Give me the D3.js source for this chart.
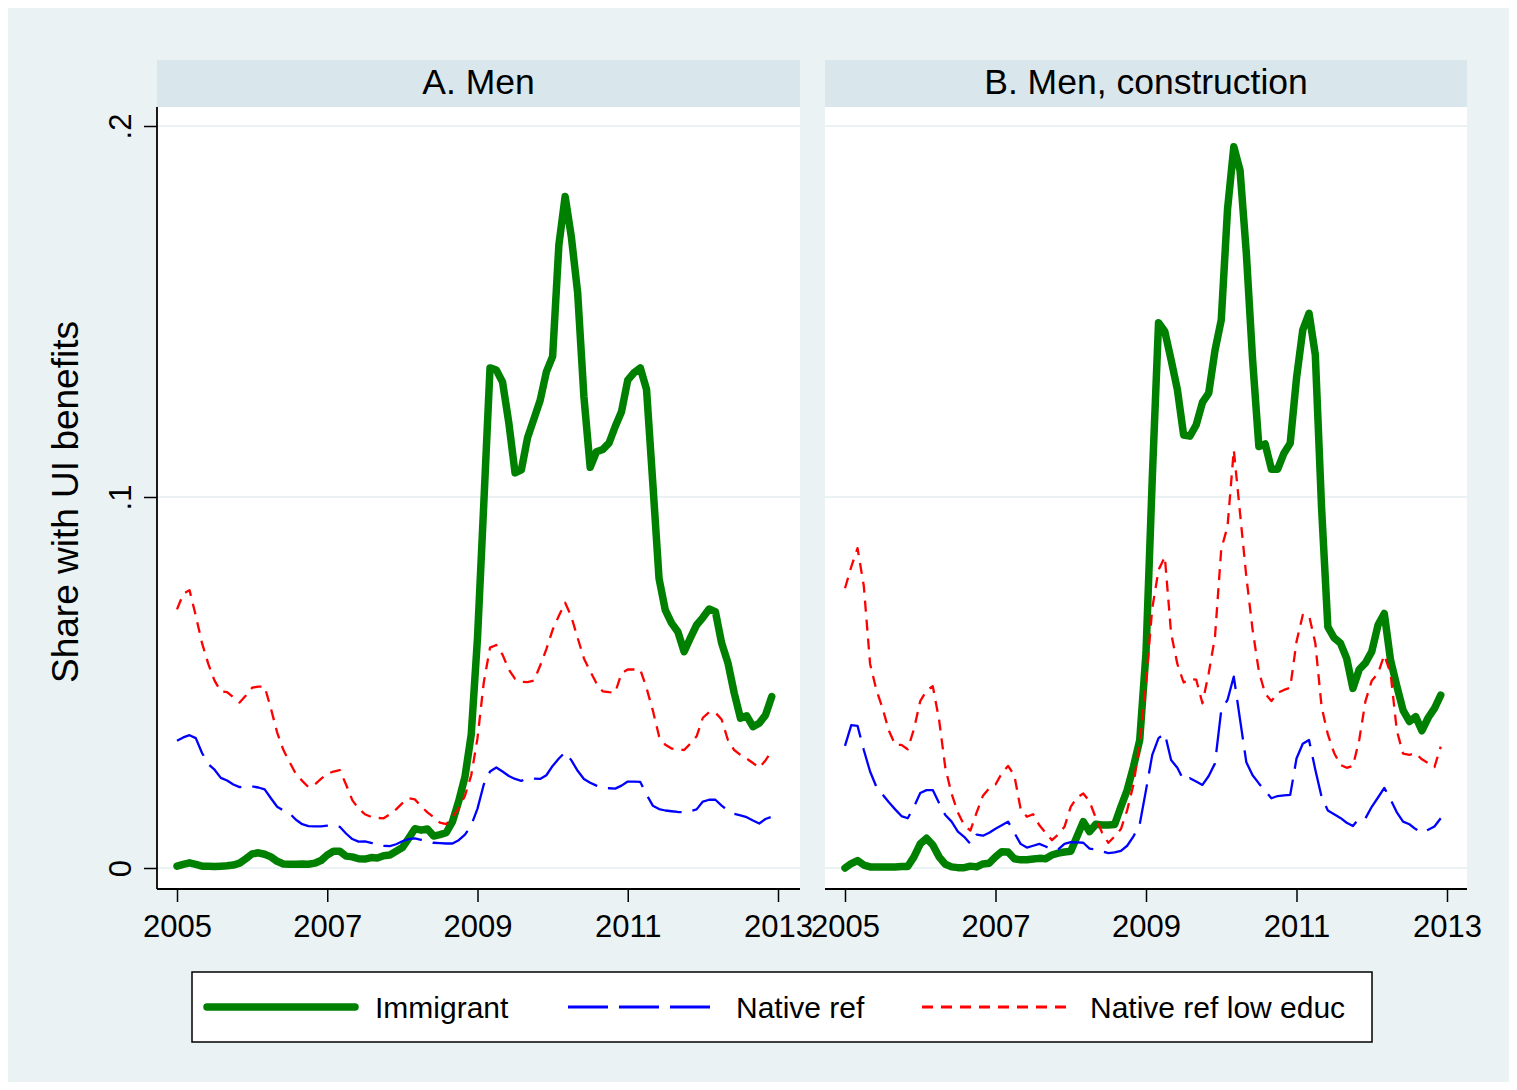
<!DOCTYPE html>
<html>
<head>
<meta charset="utf-8">
<script src="https://cdn.jsdelivr.net/npm/d3@7"></script>
<style>
  body { margin: 0; background: #fff; }
  text { font-family: "Liberation Sans", Arial, Helvetica, sans-serif; fill: #000; }
</style>
</head>
<body>
<script>
// monthly series, Jan 2005 .. Dec 2012 (12 values per row)
var startYear = 2005;

var menImmigrant = [
  0.0005, 0.0010, 0.0014, 0.0010, 0.0005, 0.0005, 0.0004, 0.0005, 0.0006, 0.0008, 0.0013, 0.0025,
  0.0038, 0.0041, 0.0037, 0.0030, 0.0018, 0.0011, 0.0010, 0.0010, 0.0011, 0.0010, 0.0013, 0.0020,
  0.0035, 0.0045, 0.0045, 0.0032, 0.0030, 0.0025, 0.0024, 0.0028, 0.0027, 0.0033, 0.0035, 0.0045,
  0.0055, 0.0080, 0.0106, 0.0102, 0.0105, 0.0086, 0.0090, 0.0095, 0.0125, 0.0180, 0.0246, 0.0360,
  0.0620, 0.0980, 0.1348, 0.1342, 0.1310, 0.1200, 0.1065, 0.1073, 0.1160, 0.1210, 0.1260, 0.1337,
  0.1379, 0.1680, 0.1810, 0.1700, 0.1550, 0.1270, 0.1080, 0.1122, 0.1128, 0.1145, 0.1190, 0.1230,
  0.1315, 0.1335, 0.1348, 0.1290, 0.1038, 0.0780, 0.0695, 0.0660, 0.0637, 0.0583, 0.0620, 0.0655,
  0.0675, 0.0698, 0.0691, 0.0606, 0.0553, 0.0472, 0.0404, 0.0410, 0.0381, 0.0390, 0.0412, 0.0462
];
var menNative = [
  0.0343, 0.0352, 0.0358, 0.0350, 0.0310, 0.0280, 0.0265, 0.0243, 0.0236, 0.0225, 0.0218, 0.0221,
  0.0220, 0.0217, 0.0212, 0.0188, 0.0165, 0.0155, 0.0147, 0.0130, 0.0118, 0.0113, 0.0112, 0.0112,
  0.0114, 0.0116, 0.0111, 0.0093, 0.0078, 0.0071, 0.0072, 0.0068, 0.0062, 0.0060, 0.0059, 0.0064,
  0.0072, 0.0078, 0.0080, 0.0076, 0.0072, 0.0068, 0.0067, 0.0066, 0.0066, 0.0075, 0.0090, 0.0115,
  0.0160, 0.0225, 0.0260, 0.0271, 0.0260, 0.0248, 0.0240, 0.0235, 0.0242, 0.0241, 0.0240, 0.0250,
  0.0275, 0.0295, 0.0312, 0.0290, 0.0262, 0.0240, 0.0230, 0.0222, 0.0216, 0.0215, 0.0214, 0.0222,
  0.0233, 0.0233, 0.0232, 0.0198, 0.0168, 0.0159, 0.0155, 0.0153, 0.0151, 0.0150, 0.0153, 0.0158,
  0.0179, 0.0184, 0.0184, 0.0168, 0.0155, 0.0146, 0.0142, 0.0137, 0.0128, 0.0120, 0.0132, 0.0138
];
var menNativeLow = [
  0.0697, 0.0739, 0.0749, 0.0680, 0.0606, 0.0550, 0.0505, 0.0476, 0.0474, 0.0460, 0.0446, 0.0465,
  0.0486, 0.0489, 0.0489, 0.0430, 0.0365, 0.0318, 0.0285, 0.0253, 0.0235, 0.0218, 0.0225, 0.0240,
  0.0254, 0.0260, 0.0264, 0.0225, 0.0183, 0.0160, 0.0145, 0.0138, 0.0135, 0.0134, 0.0145, 0.0158,
  0.0175, 0.0188, 0.0185, 0.0166, 0.0150, 0.0137, 0.0122, 0.0118, 0.0138, 0.0160, 0.0195, 0.0250,
  0.0350, 0.0500, 0.0594, 0.0601, 0.0575, 0.0535, 0.0510, 0.0502, 0.0501, 0.0505, 0.0545, 0.0590,
  0.0642, 0.0680, 0.0715, 0.0677, 0.0620, 0.0565, 0.0530, 0.0498, 0.0476, 0.0474, 0.0473, 0.0525,
  0.0535, 0.0535, 0.0535, 0.0485, 0.0425, 0.0355, 0.0332, 0.0322, 0.0320, 0.0318, 0.0335, 0.0355,
  0.0405, 0.0420, 0.0419, 0.0400, 0.0345, 0.0318, 0.0305, 0.0295, 0.0283, 0.0270, 0.0290, 0.0315
];

var conImmigrant = [
  0.0000, 0.0012, 0.0020, 0.0008, 0.0003, 0.0003, 0.0003, 0.0003, 0.0003, 0.0004, 0.0004, 0.0030,
  0.0065, 0.0080, 0.0062, 0.0030, 0.0010, 0.0003, 0.0001, 0.0001, 0.0005, 0.0003, 0.0011, 0.0013,
  0.0030, 0.0044, 0.0043, 0.0025, 0.0022, 0.0022, 0.0024, 0.0026, 0.0025, 0.0035, 0.0040, 0.0043,
  0.0045, 0.0085, 0.0125, 0.0098, 0.0118, 0.0116, 0.0116, 0.0117, 0.0165, 0.0210, 0.0273, 0.0345,
  0.0580, 0.1050, 0.1470, 0.1446, 0.1370, 0.1290, 0.1167, 0.1164, 0.1194, 0.1255, 0.1280, 0.1395,
  0.1477, 0.1775, 0.1944, 0.1880, 0.1657, 0.1370, 0.1136, 0.1143, 0.1075, 0.1075, 0.1118, 0.1145,
  0.1320, 0.1450, 0.1495, 0.1383, 0.0970, 0.0650, 0.0620, 0.0606, 0.0565, 0.0484, 0.0535, 0.0553,
  0.0583, 0.0655, 0.0686, 0.0560, 0.0490, 0.0425, 0.0395, 0.0408, 0.0370, 0.0405, 0.0430, 0.0466
];
var conNative = [
  0.0329, 0.0385, 0.0383, 0.0318, 0.0260, 0.0219, 0.0198, 0.0177, 0.0158, 0.0140, 0.0134, 0.0165,
  0.0202, 0.0210, 0.0210, 0.0175, 0.0143, 0.0125, 0.0098, 0.0084, 0.0065, 0.0090, 0.0087, 0.0095,
  0.0106, 0.0115, 0.0125, 0.0095, 0.0065, 0.0055, 0.0060, 0.0065, 0.0058, 0.0050, 0.0050, 0.0065,
  0.0070, 0.0069, 0.0068, 0.0052, 0.0050, 0.0045, 0.0040, 0.0042, 0.0046, 0.0060, 0.0085, 0.0118,
  0.0210, 0.0305, 0.0350, 0.0363, 0.0291, 0.0270, 0.0237, 0.0242, 0.0233, 0.0224, 0.0248, 0.0282,
  0.0425, 0.0453, 0.0516, 0.0400, 0.0285, 0.0250, 0.0228, 0.0208, 0.0188, 0.0194, 0.0196, 0.0197,
  0.0295, 0.0335, 0.0345, 0.0265, 0.0192, 0.0155, 0.0145, 0.0135, 0.0122, 0.0113, 0.0134, 0.0134,
  0.0165, 0.0190, 0.0216, 0.0185, 0.0150, 0.0125, 0.0118, 0.0105, 0.0095, 0.0103, 0.0112, 0.0134
];
var conNativeLow = [
  0.0754, 0.0812, 0.0862, 0.0760, 0.0550, 0.0480, 0.0430, 0.0370, 0.0332, 0.0332, 0.0320, 0.0375,
  0.0450, 0.0478, 0.0490, 0.0400, 0.0270, 0.0200, 0.0150, 0.0115, 0.0101, 0.0150, 0.0195, 0.0215,
  0.0225, 0.0255, 0.0275, 0.0250, 0.0160, 0.0138, 0.0145, 0.0115, 0.0095, 0.0075, 0.0090, 0.0111,
  0.0165, 0.0190, 0.0201, 0.0179, 0.0135, 0.0095, 0.0068, 0.0085, 0.0105, 0.0156, 0.0225, 0.0335,
  0.0500, 0.0700, 0.0803, 0.0839, 0.0633, 0.0550, 0.0500, 0.0509, 0.0508, 0.0444, 0.0525, 0.0623,
  0.0860, 0.0920, 0.1127, 0.0956, 0.0785, 0.0642, 0.0530, 0.0470, 0.0450, 0.0472, 0.0480, 0.0486,
  0.0610, 0.0682, 0.0681, 0.0606, 0.0435, 0.0360, 0.0310, 0.0278, 0.0270, 0.0275, 0.0345, 0.0450,
  0.0505, 0.0525, 0.0574, 0.0525, 0.0370, 0.0308, 0.0305, 0.0309, 0.0293, 0.0283, 0.0272, 0.0327
];

var seriesNames = ["Immigrant", "Native ref", "Native ref low educ"];
var panelTitles = ["A. Men", "B. Men, construction"];
var xTicks = [2005, 2007, 2009, 2011, 2013];
var yTicks = [0, 0.1, 0.2];
var yTickLabels = ["0", ".1", ".2"];
var yTitle = "Share with UI benefits";

var width = 1517, height = 1090;
var plotTop = 107, plotBottom = 889;

var svg = d3.select("body").append("svg")
  .attr("width", width)
  .attr("height", height);

svg.append("rect")
  .attr("x", 8).attr("y", 8)
  .attr("width", 1501).attr("height", 1074)
  .attr("fill", "#eaf2f3");

var y = d3.scaleLinear().domain([0, 0.2]).range([868, 126]);

var styles = [
  {color: "#008000", width: 7.5, dash: null},
  {color: "#0000ff", width: 2.3, dash: "40,11"},
  {color: "#ff0000", width: 2.3, dash: "11,8"}
];

var panels = [
  {title: panelTitles[0], left: 157, right: 800, x0: 177, x1: 778,
   series: [menImmigrant, menNative, menNativeLow], yAxis: true},
  {title: panelTitles[1], left: 825, right: 1467, x0: 845, x1: 1447,
   series: [conImmigrant, conNative, conNativeLow], yAxis: false}
];

panels.forEach(function(p) {
  var x = d3.scaleLinear().domain([2005, 2013]).range([p.x0, p.x1]);
  var g = svg.append("g");

  // header strip
  g.append("rect")
    .attr("x", p.left).attr("y", 60)
    .attr("width", p.right - p.left).attr("height", 47)
    .attr("fill", "#d9e6eb");
  g.append("text")
    .attr("x", (p.left + p.right) / 2).attr("y", 94)
    .attr("text-anchor", "middle")
    .attr("font-size", 35.5)
    .text(p.title);

  // plot area
  g.append("rect")
    .attr("x", p.left).attr("y", plotTop)
    .attr("width", p.right - p.left).attr("height", plotBottom - plotTop)
    .attr("fill", "#fff");

  g.selectAll(".grid")
    .data(yTicks)
    .enter().append("line")
    .attr("x1", p.left).attr("x2", p.right)
    .attr("y1", function(d) { return y(d); })
    .attr("y2", function(d) { return y(d); })
    .attr("stroke", "#eaf2f3")
    .attr("stroke-width", 2);

  var line = d3.line()
    .x(function(d, i) { return x(startYear + i / 12); })
    .y(function(d) { return y(d); });

  p.series.forEach(function(vals, k) {
    var s = styles[k];
    g.append("path")
      .datum(vals)
      .attr("d", line)
      .attr("fill", "none")
      .attr("stroke", s.color)
      .attr("stroke-width", s.width)
      .attr("stroke-linejoin", "round")
      .attr("stroke-linecap", k === 0 ? "round" : "butt")
      .attr("stroke-dasharray", s.dash);
  });

  // x axis
  var xa = g.append("g")
    .attr("transform", "translate(0," + plotBottom + ")")
    .call(d3.axisBottom(x).tickValues(xTicks).tickFormat(d3.format("d")).tickSize(13).tickSizeOuter(0));
  xa.select(".domain").remove();
  xa.selectAll(".tick line").attr("stroke", "#000").attr("stroke-width", 1.5);
  xa.selectAll(".tick text")
    .attr("y", 48).attr("dy", 0)
    .attr("font-size", 31)
    .attr("font-family", "Liberation Sans, Arial, sans-serif")
    .attr("fill", "#000");
  g.append("line")
    .attr("x1", p.left).attr("x2", p.right)
    .attr("y1", plotBottom).attr("y2", plotBottom)
    .attr("stroke", "#000").attr("stroke-width", 1.8);

  if (p.yAxis) {
    var ya = g.append("g")
      .attr("transform", "translate(" + p.left + ",0)")
      .call(d3.axisLeft(y).tickValues(yTicks)
        .tickFormat(function(d, i) { return yTickLabels[i]; })
        .tickSize(13).tickSizeOuter(0));
    ya.select(".domain").remove();
    ya.selectAll(".tick line").attr("stroke", "#000").attr("stroke-width", 1.5);
    ya.selectAll(".tick text")
      .attr("x", 0).attr("y", 0).attr("dy", 0)
      .attr("text-anchor", "middle")
      .attr("transform", "translate(-26,0) rotate(-90)")
      .attr("font-size", 31)
      .attr("font-family", "Liberation Sans, Arial, sans-serif")
      .attr("fill", "#000");
    g.append("line")
      .attr("x1", p.left).attr("x2", p.left)
      .attr("y1", plotTop).attr("y2", plotBottom)
      .attr("stroke", "#000").attr("stroke-width", 1.8);
  }
});

svg.append("text")
  .attr("transform", "translate(78,502) rotate(-90)")
  .attr("text-anchor", "middle")
  .attr("font-size", 37)
  .text(yTitle);

// legend
var legend = svg.append("g");
legend.append("rect")
  .attr("x", 192).attr("y", 972)
  .attr("width", 1180).attr("height", 70)
  .attr("fill", "#fff")
  .attr("stroke", "#000").attr("stroke-width", 1.5);

var legendPos = [
  {x1: 207, x2: 355, tx: 375},
  {x1: 568, x2: 713, tx: 736},
  {x1: 922, x2: 1066, tx: 1090}
];
seriesNames.forEach(function(name, k) {
  var s = styles[k], lp = legendPos[k];
  legend.append("line")
    .attr("x1", lp.x1).attr("x2", lp.x2)
    .attr("y1", 1007).attr("y2", 1007)
    .attr("stroke", s.color)
    .attr("stroke-width", k === 0 ? 7.5 : 3)
    .attr("stroke-linecap", k === 0 ? "round" : "butt")
    .attr("stroke-dasharray", s.dash);
  legend.append("text")
    .attr("x", lp.tx).attr("y", 1018)
    .attr("font-size", 30)
    .text(name);
});
</script>
</body>
</html>
